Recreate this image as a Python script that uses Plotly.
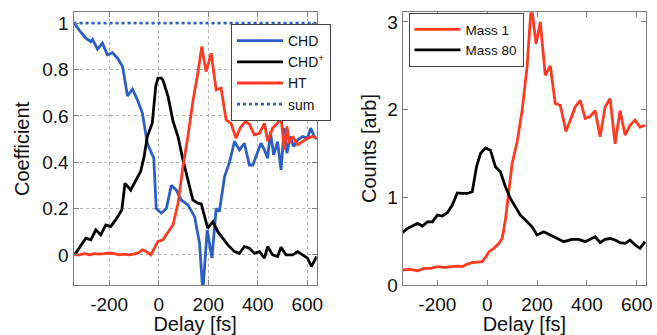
import plotly.graph_objects as go

# ---------------- data (left panel) ----------------
chd_delay = [-340, -321, -294, -274, -267, -247, -227, -207, -187, -166, -146, -126, -106, -86, -66, -46, -26,
             -20, -10, 11, 31, 51, 71, 91, 118, 145, 165, 178, 196, 215, 232, 245, 266, 286, 306, 326, 346,
             366, 380, 400, 413, 427, 440, 451, 464, 480, 494, 507, 518, 531, 545, 561, 581, 601, 614, 628, 638]
chd_coef = [1.0, 0.97, 0.935, 0.92, 0.93, 0.888, 0.914, 0.863, 0.873, 0.849, 0.813, 0.686, 0.715, 0.669, 0.612,
            0.482, 0.432, 0.42, 0.20, 0.18, 0.20, 0.30, 0.28, 0.237, 0.216, 0.165, 0.05, -0.16, 0.108, -0.014,
            0.20, 0.187, 0.338, 0.40, 0.49, 0.453, 0.482, 0.388, 0.388, 0.446, 0.482, 0.453, 0.417, 0.532, 0.432,
            0.489, 0.367, 0.547, 0.439, 0.511, 0.468, 0.496, 0.511, 0.504, 0.547, 0.511, 0.50]

chdp_delay = [-340, -321, -294, -274, -254, -234, -214, -194, -174, -149, -136, -113, -93, -73, -59, -46, -26,
              -12, -3, 10, 17, 38, 58, 78, 98, 118, 138, 158, 172, 198, 219, 239, 259, 279, 306, 326, 346, 366,
              386, 407, 427, 440, 460, 480, 494, 514, 541, 561, 581, 601, 617, 638]
chdp_coef = [0.0, 0.029, 0.072, 0.065, 0.108, 0.086, 0.129, 0.122, 0.151, 0.194, 0.309, 0.28, 0.317, 0.36,
             0.424, 0.511, 0.568, 0.727, 0.763, 0.763, 0.755, 0.683, 0.576, 0.511, 0.41, 0.324, 0.237, 0.223,
             0.22, 0.115, 0.144, 0.10, 0.072, 0.043, 0.014, 0.007, 0.036, 0.029, 0.007, 0.014, -0.014, 0.036,
             0.0, -0.007, 0.033, 0.0, 0.0, 0.014, 0.0, -0.014, -0.05, -0.007]

ht_delay = [-340, -320, -300, -280, -260, -240, -220, -200, -180, -160, -140, -120, -100, -80, -66, -50, -32,
            -16, -3, 17, 44, 58, 78, 98, 118, 138, 158, 174, 191, 212, 232, 252, 272, 292, 312, 330, 350, 366,
            386, 407, 427, 440, 460, 480, 494, 507, 518, 527, 541, 561, 581, 601, 621, 638]
ht_coef = [0.0, 0.0, 0.005, 0.0, 0.005, 0.003, 0.005, 0.008, 0.005, 0.0, 0.003, 0.0, 0.003, 0.01, 0.022, 0.015,
           0.0, 0.03, 0.058, 0.065, 0.108, 0.13, 0.223, 0.381, 0.511, 0.662, 0.784, 0.9, 0.791, 0.87, 0.712, 0.72,
           0.583, 0.568, 0.504, 0.55, 0.575, 0.565, 0.518, 0.525, 0.568, 0.49, 0.547, 0.568, 0.597, 0.453, 0.554,
           0.482, 0.511, 0.475, 0.489, 0.504, 0.511, 0.504]

sum_delay = [-344, 638]
sum_coef = [1.0, 1.0]

# ---------------- data (right panel) ----------------
m80_delay = [-340, -320, -300, -280, -260, -240, -220, -200, -180, -160, -140, -120, -100, -80, -60, -43, -27, -7,
             13, 33, 53, 73, 93, 113, 133, 153, 180, 200, 227, 253, 280, 307, 340, 367, 393, 413, 433, 453, 473,
             493, 513, 533, 553, 573, 593, 613, 633]
m80_counts = [0.596, 0.645, 0.672, 0.702, 0.672, 0.72, 0.72, 0.797, 0.786, 0.824, 0.911, 1.05, 1.044, 1.044,
              1.063, 1.348, 1.50, 1.564, 1.538, 1.348, 1.291, 1.12, 0.987, 0.892, 0.797, 0.74, 0.664, 0.57, 0.607,
              0.57, 0.53, 0.494, 0.52, 0.52, 0.494, 0.52, 0.55, 0.482, 0.52, 0.53, 0.513, 0.482, 0.475, 0.513,
              0.456, 0.418, 0.494]

m1_delay = [-340, -307, -280, -253, -227, -200, -173, -147, -120, -100, -80, -60, -33, -20, -3, 7, 27, 47, 60,
            73, 87, 100, 120, 140, 160, 177, 196, 213, 233, 253, 273, 293, 316, 333, 353, 373, 393, 413, 433,
            453, 473, 493, 513, 533, 553, 573, 593, 613, 633]
m1_counts = [0.171, 0.178, 0.163, 0.19, 0.19, 0.209, 0.2, 0.209, 0.216, 0.209, 0.239, 0.254, 0.266, 0.266, 0.33,
             0.38, 0.418, 0.475, 0.53, 0.74, 1.08, 1.386, 1.63, 1.99, 2.49, 3.2, 2.75, 3.0, 2.39, 2.5, 2.07, 2.05,
             1.75, 1.88, 2.03, 2.107, 1.90, 1.92, 1.99, 1.69, 2.03, 2.126, 1.61, 1.99, 1.71, 1.82, 1.88, 1.80, 1.82]

left_yticks = [0, 0.2, 0.4, 0.6, 0.8, 1]
left_yticktext = ["0", "0.2", "0.4", "0.6", "0.8", "1"]
xticks = [-200, 0, 200, 400, 600]
xticktext = ["-200", "0", "200", "400", "600"]
right_yticks = [0, 1, 2, 3]

BLUE = "#2b5fc4"
RED = "#ff3a22"
BLACK = "#000000"
FRAME = "#7d7d7d"
FONT = "Liberation Sans, Arial, sans-serif"

W, H = 657, 335
def fx(px):
    return px / W
def fy(py):
    return (H - py) / H

fig = go.Figure()
lw = 2.8
fig.add_trace(go.Scatter(x=chd_delay, y=chd_coef, mode="lines", name="CHD",
                         line=dict(color=BLUE, width=lw), xaxis="x", yaxis="y", legend="legend"))
fig.add_trace(go.Scatter(x=chdp_delay, y=chdp_coef, mode="lines", name="CHD<sup>+</sup>",
                         line=dict(color=BLACK, width=lw), xaxis="x", yaxis="y", legend="legend"))
fig.add_trace(go.Scatter(x=ht_delay, y=ht_coef, mode="lines", name="HT",
                         line=dict(color=RED, width=lw), xaxis="x", yaxis="y", legend="legend"))
fig.add_trace(go.Scatter(x=sum_delay, y=sum_coef, mode="lines", name="sum",
                         line=dict(color=BLUE, width=lw, dash="dot"), xaxis="x", yaxis="y", legend="legend"))

fig.add_trace(go.Scatter(x=m1_delay, y=m1_counts, mode="lines", name="Mass 1",
                         line=dict(color=RED, width=lw), xaxis="x2", yaxis="y2", legend="legend2"))
fig.add_trace(go.Scatter(x=m80_delay, y=m80_counts, mode="lines", name="Mass 80",
                         line=dict(color=BLACK, width=lw), xaxis="x2", yaxis="y2", legend="legend2"))

axis_common = dict(showline=True, linecolor=FRAME, linewidth=1, mirror="ticks", ticks="inside",
                   ticklen=5, tickcolor=FRAME, zeroline=False, automargin=False,
                   tickfont=dict(family=FONT, size=19, color="#111"))
xtitle = dict(text="Delay [fs]", font=dict(family=FONT, size=20, color="#111"), standoff=0)

fig.update_layout(
    width=W, height=H, margin=dict(l=0, r=0, t=0, b=0, autoexpand=False),
    paper_bgcolor="white", plot_bgcolor="white",
    font=dict(family=FONT, color="#111"),
    xaxis=dict(domain=[fx(73.5), fx(316.7)], range=[-344, 638], tickvals=xticks, ticktext=xticktext,
               anchor="y", ticklabelstandoff=2, title=xtitle,
               showgrid=True, gridcolor="#b5b5b5", griddash="dot", gridwidth=1, **axis_common),
    yaxis=dict(domain=[fy(285), fy(12.3)], range=[-0.13, 1.047], tickvals=left_yticks,
               ticktext=left_yticktext, anchor="x",
               showgrid=True, gridcolor="#b5b5b5", griddash="dot", gridwidth=1, **axis_common),
    xaxis2=dict(domain=[fx(402.7), fx(646)], range=[-339, 637], tickvals=xticks, ticktext=xticktext,
                anchor="y2", ticklabelstandoff=2, title=xtitle,
                showgrid=False, **axis_common),
    yaxis2=dict(domain=[fy(285), fy(12.3)], range=[0, 3.11], tickvals=right_yticks, anchor="x2",
                showgrid=False, **axis_common),
    legend=dict(x=fx(231), y=fy(24), xanchor="left", yanchor="top",
                bgcolor="white", bordercolor="#444", borderwidth=1,
                font=dict(family=FONT, size=14, color="#111"), tracegroupgap=0,
                itemwidth=46),
    legend2=dict(x=fx(408.5), y=fy(13), xanchor="left", yanchor="top",
                 bgcolor="white", bordercolor="#444", borderwidth=1,
                 font=dict(family=FONT, size=13.5, color="#111"), tracegroupgap=0,
                 itemwidth=46),
    showlegend=True,
    annotations=[
        dict(text="Coefficient", x=fx(22), y=fy(149), xref="paper", yref="paper", textangle=-90,
             showarrow=False, font=dict(family=FONT, size=20, color="#111"), xanchor="center", yanchor="middle"),
        dict(text="Counts [arb]", x=fx(369), y=fy(149), xref="paper", yref="paper", textangle=-90,
             showarrow=False, font=dict(family=FONT, size=20, color="#111"), xanchor="center", yanchor="middle"),
    ],
)

fig.write_html("out.html")
